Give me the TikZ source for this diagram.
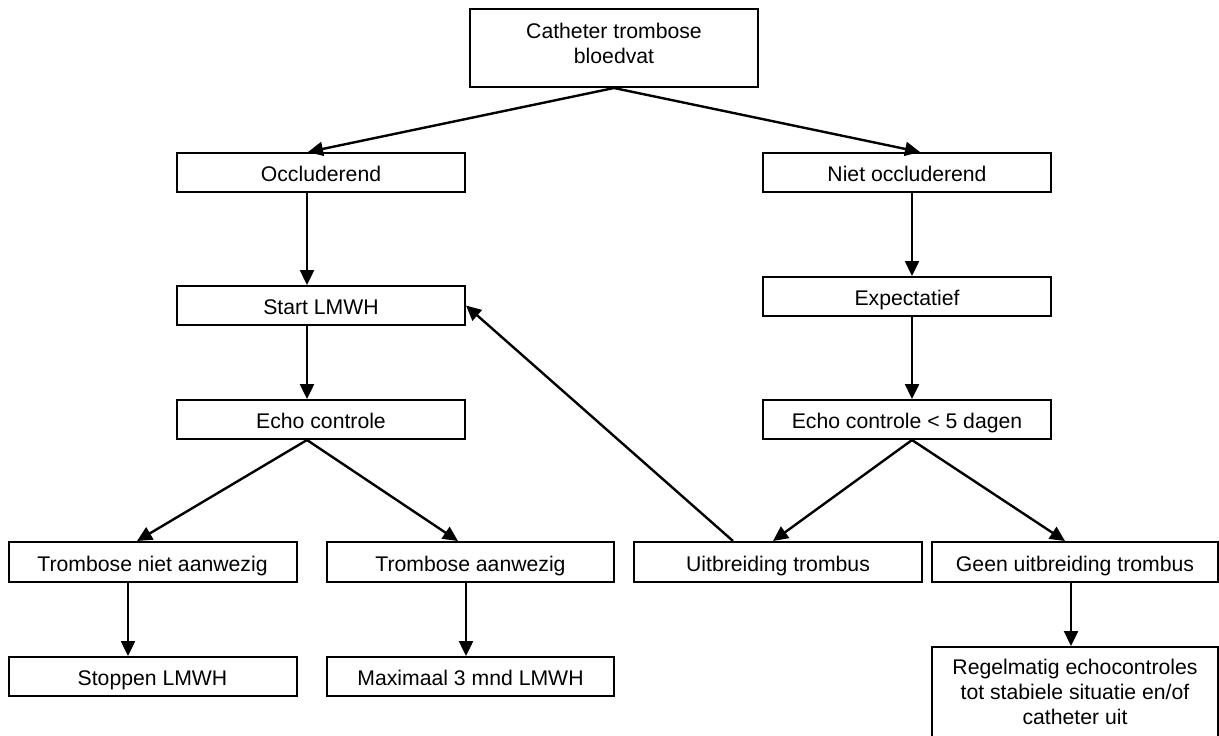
\documentclass[tikz,border=0pt]{standalone}
\usepackage{fontspec}
\setmainfont{Liberation Sans}
\usetikzlibrary{arrows.meta}
\tikzset{%
    box/.style={draw, rectangle, line width=1pt, minimum width=144pt,
        minimum height=19.5pt, inner sep=0pt, align=center,
        font=\fontsize{10.6}{12.4}\selectfont},
    one/.style={text height=10.3pt, text depth=1pt},
    arr/.style={line width=1.2pt, -{Triangle[length=7.5pt, width=7pt]}}
}

\begin{document}
\begin{tikzpicture}[x=0.5pt, y=-0.5pt]
  \useasboundingbox (0,0) rectangle (1219,735);

  \node[box, minimum height=39pt, text depth=4.5pt] (cat) at (614,48) {Catheter trombose\\bloedvat};

  \node[box, one] (occ) at (321,172.5) {Occluderend};
  \node[box, one] (noc) at (907,172.5) {Niet occluderend};

  \node[box, one] (lmwh) at (321,305.5) {Start LMWH};
  \node[box, one] (exp) at (907,296.5) {Expectatief};

  \node[box, one] (ecl) at (321,419.5) {Echo controle};
  \node[box, one] (ecr) at (907,419.5) {Echo controle < 5 dagen};

  \node[box, one, minimum height=20pt] (tna) at (152.5,562) {Trombose niet aanwezig};
  \node[box, one, minimum height=20pt, minimum width=143.5pt] (ta) at (470.5,562) {Trombose aanwezig};
  \node[box, one, minimum height=20pt] (uit) at (778,562) {Uitbreiding trombus};
  \node[box, one, minimum height=20pt, minimum width=143pt] (geen) at (1075,562) {Geen uitbreiding trombus};

  \node[box, one] (stop) at (152.5,676.5) {Stoppen LMWH};
  \node[box, one, minimum width=143.5pt] (max) at (470.5,676.5) {Maximaal 3 mnd LMWH};
  \node[box, minimum width=143pt, minimum height=45pt] (reg) at (1075,692)
      {Regelmatig echocontroles\\tot stabiele situatie en/of\\catheter uit};

  % splitsing bovenaan
  \draw[arr] (cat.south) -- ([xshift=-6.5pt]occ.north);
  \draw[arr] (cat.south) -- ([xshift=6.5pt]noc.north);

  % linker tak
  \draw[arr] ([xshift=-7pt]occ.south) -- ([xshift=-7pt]lmwh.north);
  \draw[arr] ([xshift=-7pt]lmwh.south) -- ([xshift=-7pt]ecl.north);
  \draw[arr] ([xshift=-7pt]ecl.south) -- ([xshift=-7.75pt]tna.north);
  \draw[arr] ([xshift=-7pt]ecl.south) -- ([xshift=-6.25pt]ta.north);
  \draw[arr] ([xshift=-12.25pt]tna.south) -- ([xshift=-12.25pt]stop.north);
  \draw[arr] ([xshift=-2.25pt]ta.south) -- ([xshift=-2.25pt]max.north);

  % rechter tak
  \draw[arr] ([xshift=2.5pt]noc.south) -- ([xshift=2.5pt]exp.north);
  \draw[arr] ([xshift=2.5pt]exp.south) -- ([xshift=2.5pt]ecr.north);
  \draw[arr] ([xshift=2.5pt]ecr.south) -- ([xshift=-2.5pt]uit.north);
  \draw[arr] ([xshift=2.5pt]ecr.south) -- ([xshift=-5pt]geen.north);
  \draw[arr] ([xshift=-2pt]geen.south) -- ([xshift=-2pt]reg.north);

  % terug naar LMWH
  \draw[arr] ([xshift=-22.5pt]uit.north) -- (lmwh.east);
\end{tikzpicture}
\end{document}
